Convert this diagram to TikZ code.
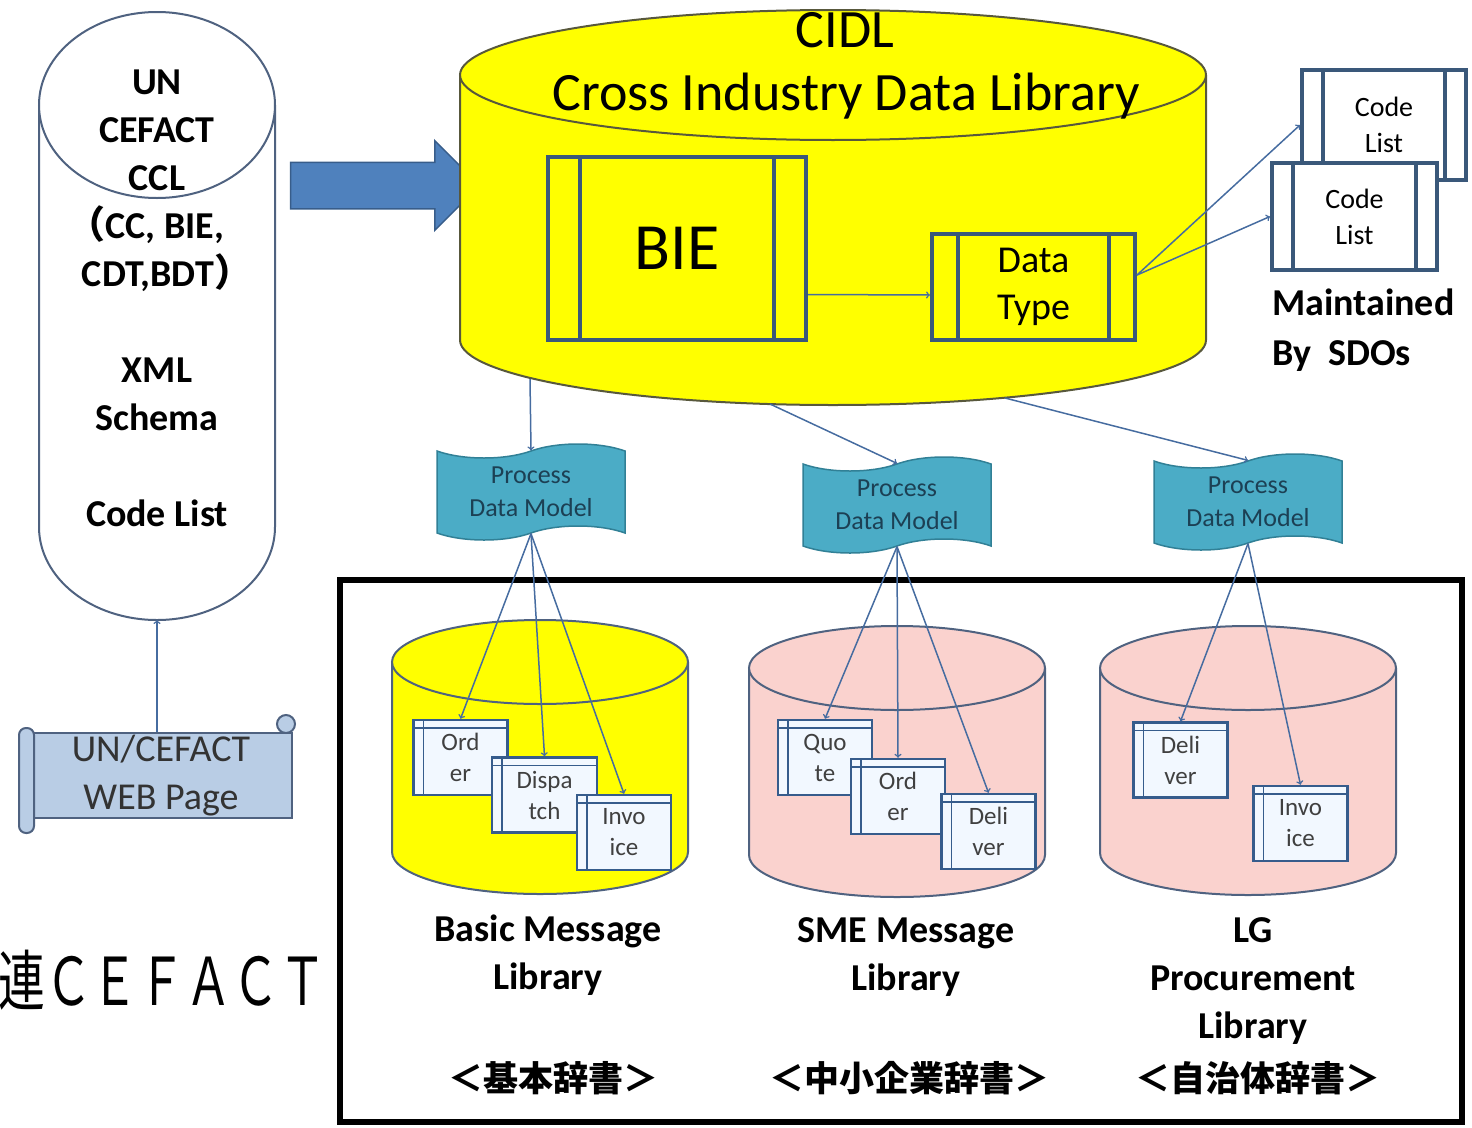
\documentclass[tikz,border=0pt]{standalone}
\usepackage{fontspec}
\setmainfont{Carlito}
\newfontfamily\jp{Noto Sans CJK JP}
\usetikzlibrary{shapes.symbols,shapes.arrows}

\definecolor{DrumEdge}{RGB}{79,98,128}
\definecolor{CidlYellow}{RGB}{255,255,0}
\definecolor{CidlEdge}{RGB}{88,88,60}
\definecolor{MsgPink}{RGB}{250,210,206}
\definecolor{ProcEdge}{RGB}{58,88,122}
\definecolor{DocEdge}{RGB}{54,92,140}
\definecolor{DocFill}{RGB}{242,248,255}
\definecolor{TapeFill}{RGB}{75,172,198}
\definecolor{TapeEdge}{RGB}{49,128,150}
\definecolor{TapeText}{RGB}{28,64,84}
\definecolor{ScrollFill}{RGB}{185,205,229}
\definecolor{ArrowBlue}{RGB}{79,129,189}
\definecolor{ArrowEdge}{RGB}{56,93,138}
\definecolor{LinkBlue}{RGB}{70,108,160}

% cylinder: centre x, top y, x radius, y radius, bottom y, fill, edge
\newcommand{\drum}[7]{%
  \fill[#6] (#1-#3,#2) rectangle (#1+#3,#5);
  \fill[#6] (#1,#5) ellipse [x radius=#3, y radius=#4];
  \draw[#7, line width=2pt] (#1-#3,#2) -- (#1-#3,#5)
    arc [start angle=180, end angle=360, x radius=#3, y radius=#4] -- (#1+#3,#2);
  \draw[#7, line width=2pt, fill=#6] (#1,#2) ellipse [x radius=#3, y radius=#4];
}

\begin{document}
\begin{tikzpicture}[x=1pt, y=1pt,
  link/.style={->, draw=LinkBlue, line width=1.5pt},
  proc/.style={draw=ProcEdge, line width=4pt, inner sep=0pt, align=center,
    path picture={\draw[ProcEdge, line width=4pt]
      ([xshift=#1]path picture bounding box.north west) -- ([xshift=#1]path picture bounding box.south west)
      ([xshift=-#1]path picture bounding box.north east) -- ([xshift=-#1]path picture bounding box.south east);}},
  doc/.style={draw=DocEdge, fill=DocFill, line width=2.5pt, minimum width=94pt, minimum height=75pt,
    inner sep=0pt, align=center, text=black!75, font=\fontsize{25}{31}\selectfont,
    path picture={\draw[DocEdge, line width=1.5pt]
      ([yshift=-8pt]path picture bounding box.north west) -- ([yshift=-8pt]path picture bounding box.north east)
      ([xshift=10pt]path picture bounding box.north west) -- ([xshift=10pt]path picture bounding box.south west);}},
  pdm/.style={tape, draw=TapeEdge, fill=TapeFill, line width=1.5pt, minimum width=188pt,
    minimum height=96pt, tape bend height=14pt, align=center, text=TapeText,
    font=\fontsize{26}{33}\selectfont},
  scrollbox/.style={draw=DrumEdge, fill=ScrollFill, line width=2pt, minimum width=262pt,
    minimum height=85pt, inner sep=0pt, align=center, text=black!80,
    font=\fontsize{38}{48}\selectfont},
  libname/.style={anchor=north, inner sep=0pt, align=center, font=\fontsize{38}{48}\selectfont\bfseries},
  jpname/.style={font=\jp\bfseries\fontsize{35}{40}\selectfont}]

\useasboundingbox (0,0) rectangle (1472,-1127);

% frame round the message libraries
\draw[line width=6pt] (340,-580) rectangle (1462,-1122);

% UN/CEFACT CCL
\drum{157}{-105}{118}{93}{-527}{white}{DrumEdge}
\node (ccl) [anchor=north, inner sep=0pt, align=center, font=\fontsize{38}{48}\selectfont\bfseries] at (157,-70)
  {UN\\CEFACT\\CCL\\{\jp\makebox[16pt][r]{（}}CC, BIE,\\CDT,BDT{\jp\makebox[18pt][l]{）}}\\[48pt]XML\\Schema\\[48pt]Code List};
\coordinate (ccl-foot) at (157,-620);

% web page scroll
\node (web) [scrollbox] at (161,-775.5) {UN/CEFACT\\WEB Page};
\draw[DrumEdge, fill=ScrollFill, line width=2pt, rounded corners=7pt]
  ([xshift=-10pt,yshift=4pt]web.north west) rectangle ([xshift=5pt,yshift=-14pt]web.south west);
\draw[DrumEdge, fill=ScrollFill, line width=2pt] ([xshift=-7pt,yshift=8pt]web.north east) circle [radius=9];
\draw[link] (web.north -| ccl-foot) -- (ccl-foot);

% big arrow
\node (feed) [single arrow, draw=ArrowEdge, fill=ArrowBlue, line width=1.5pt, inner xsep=0pt,
  inner ysep=22.5pt, single arrow head extend=21.5pt, minimum height=189pt] at (373.5,-185.5) {};

% CIDL
\drum{833}{-75}{373}{65}{-340}{CidlYellow}{CidlEdge}
\node (cidl) [anchor=base, font=\fontsize{54}{60}\selectfont] at (845,-47) {CIDL};
\node (cidl-name) [anchor=base, font=\fontsize{54}{60}\selectfont] at (846,-110) {Cross Industry Data Library};

\node (bie) [proc=32pt, minimum width=258pt, minimum height=183pt, font=\fontsize{66}{70}\selectfont] at (677,-248.5) {BIE};
\node (dtype) [proc=26pt, minimum width=203pt, minimum height=106pt, font=\fontsize{38}{47}\selectfont] at (1033.5,-287) {Data\\Type};
\draw[link] ([yshift=-46pt]bie.east) -- ([yshift=-8pt]dtype.west);

% code lists
\node (cl1) [proc=21pt, fill=white, minimum width=164pt, minimum height=110pt, font=\fontsize{28}{36}\selectfont] at (1384,-125) {Code\\List};
\node (cl2) [proc=21pt, fill=white, minimum width=165pt, minimum height=107pt, font=\fontsize{28}{36}\selectfont] at (1354.5,-216.5) {Code\\List};
\draw[link] ([yshift=12pt]dtype.east) -- (cl1.west);
\draw[link] ([yshift=12pt]dtype.east) -- (cl2.west);
\node (sdo) [anchor=north west, inner sep=0pt, align=left, font=\fontsize{38}{50}\selectfont\bfseries] at (1272,-289) {Maintained\\By~~SDOs};

% process data models
\node (pdm1) [pdm] at (531,-492) {Process\\Data Model};
\node (pdm2) [pdm] at (897,-505) {Process\\Data Model};
\node (pdm3) [pdm] at (1248,-502) {Process\\Data Model};
\coordinate (cidl-o1) at (530,-379);
\coordinate (cidl-o2) at (770,-404);
\coordinate (cidl-o3) at (1005,-398);
\draw[link] (cidl-o1) -- (pdm1.north);
\draw[link] (cidl-o2) -- (pdm2.north);
\draw[link] (cidl-o3) -- (pdm3.north);

% message libraries
\drum{540}{-662}{148}{42}{-852}{CidlYellow}{DrumEdge}
\drum{897}{-668}{148}{42}{-855}{MsgPink}{DrumEdge}
\drum{1248}{-668}{148}{42}{-853}{MsgPink}{DrumEdge}

\node (b-order) [doc] at (460.5,-757.5) {Ord\\er};
\node (b-disp) [doc, minimum width=105pt] at (544.5,-795) {Dispa\\tch};
\node (b-inv) [doc] at (624,-832.5) {Invo\\ice};
\node (s-quote) [doc] at (825,-757.5) {Quo\\te};
\node (s-order) [doc] at (898,-796.5) {Ord\\er};
\node (s-deliv) [doc] at (988.5,-831.5) {Deli\\ver};
\node (l-deliv) [doc] at (1180.5,-760) {Deli\\ver};
\node (l-inv) [doc] at (1300.5,-823.5) {Invo\\ice};

\draw[link] (pdm1.south) -- (b-order.north);
\draw[link] (pdm1.south) -- (b-disp.north);
\draw[link] (pdm1.south) -- (b-inv.north);
\draw[link] (pdm2.south) -- (s-quote.north);
\draw[link] (pdm2.south) -- (s-order.north);
\draw[link] (pdm2.south) -- (s-deliv.north);
\draw[link] (pdm3.south) -- (l-deliv.north);
\draw[link] (pdm3.south) -- (l-inv.north);

\node (basic) [libname] at (548,-915) {Basic Message\\Library};
\node (sme) [libname] at (906,-917) {SME Message\\Library};
\node (lg) [libname] at (1253,-917) {LG\\Procurement\\Library};
\node (basic-jp) [jpname] at (553,-1078) {＜基本辞書＞};
\node (sme-jp) [jpname] at (909,-1078) {＜中小企業辞書＞};
\node (lg-jp) [jpname] at (1258,-1078) {＜自治体辞書＞};

\node (cefact) [anchor=west, inner sep=0pt, font=\jp\fontsize{66}{70}\selectfont] at (-2,-980)
  {\scalebox{0.71}[1]{連ＣＥＦＡＣＴ}};

\end{tikzpicture}
\end{document}
